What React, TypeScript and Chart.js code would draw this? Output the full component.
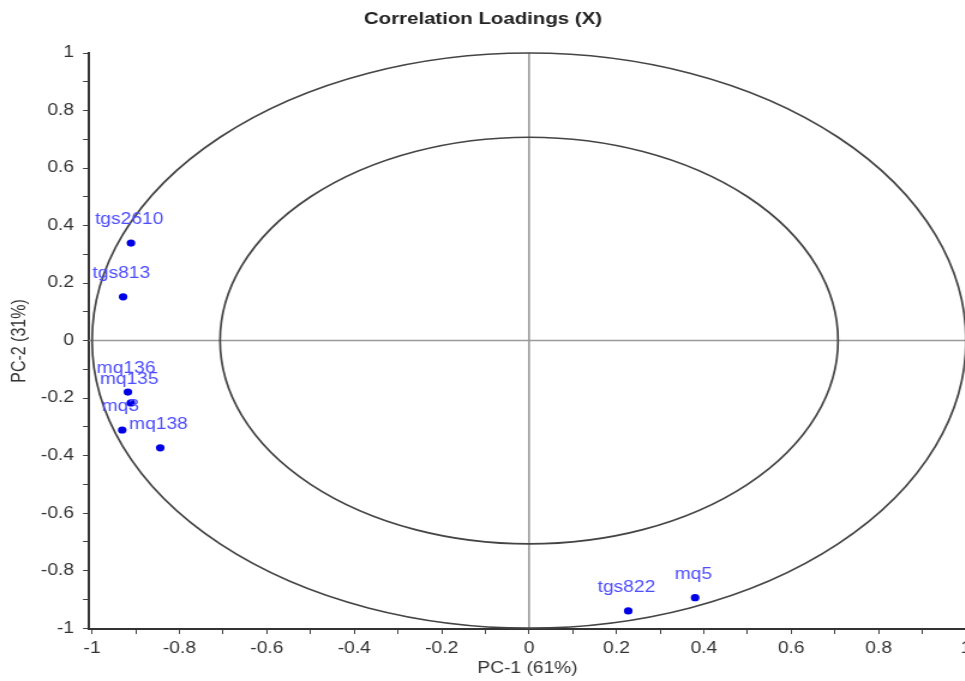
import React, { useEffect, useRef } from "react";
import { Chart, registerables } from "chart.js";

Chart.register(...registerables);

// ---- data ----
const variableNames = ["tgs2610", "tgs813", "mq136", "mq135", "mq3", "mq138", "tgs822", "mq5"];
const pc1Values = [-0.911, -0.929, -0.918, -0.911, -0.931, -0.844, 0.227, 0.38];
const pc2Values = [0.339, 0.152, -0.179, -0.217, -0.311, -0.373, -0.94, -0.894];
const xTickValues = [-1, -0.9, -0.8, -0.7, -0.6, -0.5, -0.4, -0.3, -0.2, -0.1, 0, 0.1, 0.2, 0.3, 0.4, 0.5, 0.6, 0.7, 0.8, 0.9, 1];
const yTickValues = [-1, -0.9, -0.8, -0.7, -0.6, -0.5, -0.4, -0.3, -0.2, -0.1, 0, 0.1, 0.2, 0.3, 0.4, 0.5, 0.6, 0.7, 0.8, 0.9, 1];
const circleRadii = [1, 0.7071];
const titleText = "Correlation Loadings (X)";
const xTitle = "PC-1 (61%)";
const yTitle = "PC-2 (31%)";

const FONT = "'Liberation Sans', Arial, sans-serif";
const SX = 1.2; // horizontal stretch of the rendered picture
const CSS_W = 990;
const H = 681;
const W = Math.round(CSS_W / SX);

const majorLabel = (v: number) => (Math.abs(Math.round(v * 10)) % 2 === 0 ? String(v) : "");

const overlayPlugin = {
  id: "overlay",
  beforeDatasetsDraw(chart: any) {
    const { ctx, chartArea } = chart;
    const xs = chart.scales.x;
    const ys = chart.scales.y;
    const cx = xs.getPixelForValue(0);
    const cy = ys.getPixelForValue(0);
    ctx.save();
    // zero lines
    ctx.strokeStyle = "#9a9a9a";
    ctx.lineWidth = 1.6;
    ctx.beginPath();
    ctx.moveTo(chartArea.left, cy);
    ctx.lineTo(chartArea.right + 30, cy);
    ctx.moveTo(cx, chartArea.top);
    ctx.lineTo(cx, chartArea.bottom);
    ctx.stroke();
    // correlation circles
    ctx.strokeStyle = "#444";
    ctx.lineWidth = 1.7;
    circleRadii.forEach((r) => {
      const rx = xs.getPixelForValue(r) - cx;
      const ry = cy - ys.getPixelForValue(r);
      ctx.beginPath();
      ctx.ellipse(cx, cy, rx, ry, 0, 0, Math.PI * 2);
      ctx.stroke();
    });
    ctx.restore();
  },
  afterDatasetsDraw(chart: any) {
    const { ctx } = chart;
    const meta = chart.getDatasetMeta(0);
    ctx.save();
    ctx.font = `16px ${FONT}`;
    ctx.fillStyle = "#4d4dff";
    ctx.textAlign = "center";
    ctx.textBaseline = "middle";
    meta.data.forEach((el: any, i: number) => {
      ctx.fillText(variableNames[i], el.x - 1.5, el.y - 23);
    });
    ctx.restore();
  },
};

export default function App() {
  const ref = useRef<HTMLCanvasElement | null>(null);
  useEffect(() => {
    if (!ref.current) return;
    const chart = new Chart(ref.current, {
      type: "scatter",
      data: {
        datasets: [
          {
            data: pc1Values.map((x, i) => ({ x, y: pc2Values[i] })),
            backgroundColor: "#0000e6",
            borderWidth: 0,
            pointRadius: 3.6,
          },
        ],
      },
      options: {
        animation: false,
        responsive: false,
        devicePixelRatio: 1,
        events: [],
        layout: { padding: { left: 0, right: 20, top: 0, bottom: 0 } },
        plugins: {
          legend: { display: false },
          tooltip: { enabled: false },
          title: {
            display: true,
            text: titleText,
            color: "#222",
            font: { family: FONT, size: 17, weight: "bold" },
            padding: { top: 9.3, bottom: 23.3 },
          },
        },
        scales: {
          x: {
            type: "linear",
            min: -1.007,
            max: 1,
            afterFit: (s: any) => {
              s.height = 52;
            },
            afterBuildTicks: (s: any) => {
              s.ticks = xTickValues.map((value) => ({ value }));
            },
            ticks: {
              autoSkip: false,
              maxRotation: 0,
              padding: 5,
              color: "#333",
              font: { family: FONT, size: 16 },
              callback: (v: any) => majorLabel(Number(v)),
            },
            grid: { drawOnChartArea: false, drawTicks: true, tickLength: 5, color: "#444", lineWidth: 1 },
            border: { display: true, color: "#333", width: 2 },
            title: {
              display: true,
              text: xTitle,
              color: "#333",
              font: { family: FONT, size: 16 },
              padding: { top: 0, bottom: 3 },
            },
          },
          y: {
            type: "linear",
            min: -1.003,
            max: 1,
            afterFit: (s: any) => {
              s.width = 89 / SX;
            },
            afterBuildTicks: (s: any) => {
              s.ticks = yTickValues.map((value) => ({ value }));
            },
            ticks: {
              autoSkip: false,
              padding: 7.5,
              color: "#333",
              font: { family: FONT, size: 16 },
              callback: (v: any) => majorLabel(Number(v)),
            },
            grid: { drawOnChartArea: false, drawTicks: true, tickLength: 5, color: "#444", lineWidth: 1 },
            border: { display: true, color: "#333", width: 2 },
            title: {
              display: true,
              text: yTitle,
              color: "#333",
              font: { family: FONT, size: 16 },
              padding: { top: 6.6, bottom: 0 },
            },
          },
        },
      },
      plugins: [overlayPlugin],
    } as any);
    return () => chart.destroy();
  }, []);

  return (
    <div
      style={{
        position: "fixed",
        left: 0,
        top: 0,
        width: 965,
        height: H,
        overflow: "hidden",
        background: "#fff",
      }}
    >
      <canvas
        ref={ref}
        width={W}
        height={H}
        style={{ width: `${CSS_W}px`, height: `${H}px`, display: "block" }}
      />
    </div>
  );
}
